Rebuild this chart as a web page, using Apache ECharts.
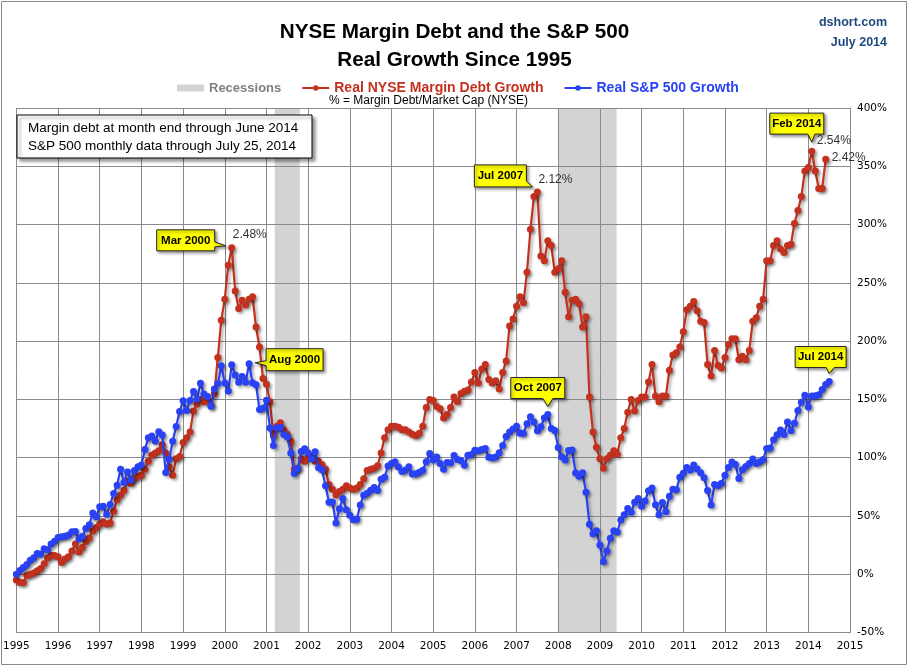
<!DOCTYPE html>
<html><head><meta charset="utf-8">
<script src="https://cdn.jsdelivr.net/npm/echarts@6/dist/echarts.min.js"></script>
<style>html,body{margin:0;padding:0;background:#fff}#c{width:909px;height:667px}</style>
</head><body><div id="c"></div>
<script>
// ---- DATA (monthly, starting Jan 1995) ----
const startYear = 1995;
const marginDebtGrowth = [ // Real NYSE Margin Debt Growth, %, Jan 1995 - Jun 2014
  -5, -7, -7, -1, 0, 1, 3, 5, 9, 14, 16, 16,
  15, 10, 13, 15, 20, 26, 19, 23, 28, 31, 37, 40,
  43, 45, 43, 44, 54, 64, 68, 72, 80, 78, 82, 84,
  85, 90, 97, 102, 104, 106, 111, 104, 92, 85, 99, 101,
  113, 117, 122, 140, 146, 150, 148, 149, 145, 155, 186, 218,
  236, 265, 280, 243, 228, 235, 231, 236, 238, 212, 195, 168,
  163, 148, 119, 127, 130, 124, 120, 114, 90, 91, 99, 97,
  101, 101, 97, 97, 94, 90, 77, 73, 68, 71, 73, 76,
  74, 73, 74, 77, 82, 89, 90, 91, 93, 104, 117, 124,
  127, 127, 126, 124, 124, 122, 120, 119, 121, 127, 143, 150,
  149, 144, 142, 134, 137, 143, 152, 148, 155, 157, 158, 165,
  173, 164, 176, 180, 167, 164, 166, 159, 173, 183, 213, 219,
  230, 238, 233, 259, 296, 324, 328, 273, 269, 286, 282, 259,
  262, 269, 242, 221, 235, 236, 232, 212, 221, 152, 122, 109,
  99, 91, 99, 102, 106, 103, 117, 125, 139, 150, 140, 149,
  152, 152, 165, 180, 153, 148, 153, 153, 175, 188, 190, 195,
  208, 227, 230, 234, 226, 217, 216, 180, 170, 192, 179, 177,
  186, 197, 202, 202, 184, 187, 184, 192, 217, 220, 230, 236,
  269, 269, 282, 286, 279, 276, 282, 283, 301, 312, 324, 346,
  349, 363, 346, 331, 331, 356
];
const sp500Growth = [ // Real S&P 500 Growth, %, Jan 1995 - Jul 2014
  0.0, 3.2, 5.7, 8.3, 12.0, 14.1, 17.8, 17.4, 21.9, 20.9, 25.9, 28.2,
  31.6, 32.1, 32.5, 33.7, 36.5, 36.7, 30.2, 32.4, 39.2, 42.4, 52.5, 49.2,
  57.9, 58.3, 51.2, 59.8, 69.3, 76.4, 90.0, 78.7, 87.8, 80.8, 89.0, 92.2,
  93.8, 107.1, 117.0, 118.6, 114.1, 122.2, 119.4, 87.2, 98.6, 114.1, 126.7, 139.6,
  148.8, 140.5, 149.1, 156.7, 150.3, 163.9, 154.7, 152.5, 144.1, 158.9, 163.7, 178.9,
  164.0, 157.1, 179.7, 170.9, 164.7, 169.6, 164.6, 180.6, 164.2, 162.5, 141.4, 142.4,
  149.3, 125.4, 110.4, 125.7, 125.8, 119.8, 118.0, 104.1, 86.5, 90.6, 105.2, 107.6,
  103.9, 98.9, 105.0, 91.4, 89.6, 75.8, 61.7, 62.0, 43.9, 56.1, 65.0, 55.4,
  50.5, 46.8, 47.1, 59.4, 67.8, 69.5, 72.1, 74.5, 71.8, 81.5, 83.3, 92.8,
  95.1, 96.5, 92.0, 88.2, 89.4, 92.1, 85.9, 86.2, 87.5, 89.2, 96.4, 103.5,
  97.9, 100.5, 95.1, 90.0, 95.8, 95.7, 101.8, 98.5, 97.5, 93.6, 102.0, 102.7,
  106.3, 105.9, 107.1, 107.8, 100.4, 100.0, 100.5, 104.3, 110.4, 118.2, 122.1, 124.6,
  127.0, 120.9, 121.0, 129.1, 135.2, 130.5, 123.2, 126.5, 134.0, 137.0, 125.1, 123.4,
  108.7, 100.8, 97.9, 106.1, 106.6, 86.9, 84.1, 87.1, 70.3, 42.9, 34.8, 37.3,
  25.0, 10.7, 19.9, 30.8, 37.3, 36.2, 46.5, 51.1, 56.4, 53.1, 61.8, 65.0,
  58.3, 62.9, 71.7, 73.9, 59.5, 51.1, 61.5, 53.6, 67.0, 72.9, 72.4, 83.3,
  86.6, 91.6, 89.5, 93.7, 90.2, 87.0, 82.8, 71.9, 59.3, 76.9, 76.1, 78.0,
  85.0, 91.6, 96.2, 94.1, 82.2, 89.6, 92.4, 95.1, 98.9, 95.1, 96.6, 98.5,
  107.8, 108.4, 115.4, 119.6, 123.7, 119.8, 130.6, 123.1, 129.5, 140.4, 147.5, 153.5,
  143.5, 153.0, 153.2, 153.9, 158.4, 162.8, 165.3
];
const recessionStart = [2001.2, 2008.0];
const recessionEnd   = [2001.8, 2009.4];
const seriesNames = ['Recessions', 'Real NYSE Margin Debt Growth', 'Real S&P 500 Growth'];
// callouts: series key, month index, label
const callouts = [
  {text:'Mar 2000', s:'m', i:62,  box:[-75,-18,-17,3],  side:'right',  wedge:[-6,-1], tip:[-6,-2]},
  {text:'Aug 2000', s:'s', i:67,  box:[17,-15,74,7],    side:'left',   wedge:[-3,2],  tip:[6,-1]},
  {text:'Jul 2007', s:'m', i:150, box:[-63,-27,-11,-5], side:'right',  wedge:[-11,-5], tip:[-5,-5]},
  {text:'Oct 2007', s:'s', i:153, box:[-37,-37,17,-16], side:'bottom', wedge:[-5,5],  tip:[0,-8]},
  {text:'Feb 2014', s:'m', i:229, box:[-42,-38,12,-17], side:'bottom', wedge:[-4,3],  tip:[0,-9]},
  {text:'Jul 2014', s:'s', i:234, box:[-34,-35,17,-14], side:'bottom', wedge:[-3,5],  tip:[0,-8]}
];
const ratioLabels = [
  {text:'2.48%', s:'m', i:62,  dx:1, dy:-13},
  {text:'2.12%', s:'m', i:150, dx:1, dy:-12},
  {text:'2.54%', s:'m', i:229, dx:5, dy:-10},
  {text:'2.42%', s:'m', i:233, dx:6, dy:-2}
];

const RED = '#c4311f', BLUE = '#2a42f6', GRID = '#8a8a8a';
const FONT = "'Liberation Sans',sans-serif";
const toXY = arr => arr.map((v, k) => [startYear + k / 12, v]);
const redData = toXY(marginDebtGrowth);
const blueData = toXY(sp500Growth);

const chart = echarts.init(document.getElementById('c'), null, {renderer: 'canvas'});
const shadow = {shadowColor: 'rgba(0,0,0,0.35)', shadowBlur: 3, shadowOffsetX: 2, shadowOffsetY: 2};

chart.setOption({
  animation: false,
  backgroundColor: '#fff',
  title: [
    {text: 'NYSE Margin Debt and the S&P 500\nReal Growth Since 1995', left: 'center', top: 13,
     textStyle: {fontFamily: FONT, fontWeight: 'bold', fontSize: 20.7, lineHeight: 28, color: '#000'}},
    {text: '% = Margin Debt/Market Cap (NYSE)', left: 324, top: 89.5,
     textStyle: {fontFamily: FONT, fontWeight: 'normal', fontSize: 12, color: '#000'}}
  ],
  legend: {
    left: 172, top: 76, itemGap: 20, itemWidth: 27, itemHeight: 7,
    textStyle: {fontFamily: FONT, fontWeight: 'bold', fontSize: 14},
    data: [
      {name: seriesNames[0], icon: 'rect', textStyle: {color: '#808080', fontSize: 13}},
      {name: seriesNames[1], textStyle: {color: RED}},
      {name: seriesNames[2], textStyle: {color: BLUE}}
    ]
  },
  grid: {left: 14.5, right: 59, top: 108, bottom: 34.5},
  xAxis: {
    type: 'value', min: 1995, max: 2015, interval: 1, z: 1.5,
    axisLine: {show: true, lineStyle: {color: GRID}},
    axisTick: {show: false},
    splitLine: {show: true, lineStyle: {color: GRID, width: 1}},
    axisLabel: {formatter: v => String(v), color: '#000', fontFamily: "'DejaVu Sans',sans-serif", fontSize: 10.5, margin: 8}
  },
  yAxis: {
    type: 'value', position: 'right', min: -50, max: 400, interval: 50, z: 1.5,
    axisLine: {show: true, lineStyle: {color: GRID}},
    axisTick: {show: false},
    splitLine: {show: true, lineStyle: {color: GRID, width: 1}},
    axisLabel: {formatter: '{value}%', color: '#000', fontFamily: "'DejaVu Sans',sans-serif", fontSize: 10.5, margin: 7}
  },
  series: [
    {
      type: 'custom', name: seriesNames[0], z: 1, silent: true,
      itemStyle: {color: '#d3d3d3'},
      data: recessionStart.map((s, k) => [s, recessionEnd[k]]),
      encode: {x: [0, 1]},
      renderItem: (params, api) => {
        const p0 = api.coord([api.value(0), 400]);
        const p1 = api.coord([api.value(1), -50]);
        return {type: 'rect', shape: {x: p0[0], y: p0[1], width: p1[0] - p0[0], height: p1[1] - p0[1]},
                style: {fill: '#d3d3d3'}};
      }
    },
    {
      type: 'line', name: seriesNames[1], data: redData, z: 3,
      symbol: 'circle', symbolSize: 7, showAllSymbol: true,
      lineStyle: Object.assign({color: RED, width: 2.2}, shadow),
      itemStyle: Object.assign({color: RED}, shadow)
    },
    {
      type: 'line', name: seriesNames[2], data: blueData, z: 4,
      symbol: 'circle', symbolSize: 7, showAllSymbol: true,
      lineStyle: Object.assign({color: BLUE, width: 2.2}, shadow),
      itemStyle: Object.assign({color: BLUE}, shadow)
    }
  ]
});

// ---- annotations anchored to data points ----
function pt(s, i) {
  const d = s === 'm' ? redData[i] : blueData[i];
  return chart.convertToPixel({gridIndex: 0}, d);
}
const graphics = [];
graphics.push({type: 'rect', shape: {x: 1.5, y: 1.5, width: 905, height: 663}, style: {fill: null, stroke: '#8a8a8a', lineWidth: 1}, z: 0, silent: true});
// source / date (top right)
graphics.push({type: 'text', x: 887, y: 23, z: 11, style: {text: 'dshort.com', fontFamily: FONT, fontWeight: 'bold', fontSize: 12.5, fill: '#1f497d', align: 'right', verticalAlign: 'middle'}});
graphics.push({type: 'text', x: 887, y: 43, z: 11, style: {text: 'July 2014', fontFamily: FONT, fontWeight: 'bold', fontSize: 12.5, fill: '#1f497d', align: 'right', verticalAlign: 'middle'}});
// note box
graphics.push({type: 'rect', shape: {x: 17, y: 115, width: 295, height: 43},
  style: {fill: '#fff', stroke: '#000', lineWidth: 1, shadowColor: 'rgba(0,0,0,0.4)', shadowBlur: 3, shadowOffsetX: 3, shadowOffsetY: 3}, z: 10});
graphics.push({type: 'text', x: 28, y: 128, z: 11, style: {text: 'Margin debt at month end through June 2014', fontFamily: FONT, fontSize: 13.5, fill: '#000', verticalAlign: 'middle'}});
graphics.push({type: 'text', x: 28, y: 146, z: 11, style: {text: 'S&P 500 monthly data through July 25, 2014', fontFamily: FONT, fontSize: 13.5, fill: '#000', verticalAlign: 'middle'}});

callouts.forEach(c => {
  const p = pt(c.s, c.i);
  const x0 = p[0] + c.box[0], y0 = p[1] + c.box[1], x1 = p[0] + c.box[2], y1 = p[1] + c.box[3];
  const tip = [p[0] + c.tip[0], p[1] + c.tip[1]];
  const pts = [[x0, y0], [x1, y0]];
  if (c.side === 'right') pts.push([x1, p[1] + c.wedge[0]], tip, [x1, p[1] + c.wedge[1]]);
  pts.push([x1, y1]);
  if (c.side === 'bottom') pts.push([p[0] + c.wedge[1], y1], tip, [p[0] + c.wedge[0], y1]);
  pts.push([x0, y1]);
  if (c.side === 'left') pts.push([x0, p[1] + c.wedge[1]], tip, [x0, p[1] + c.wedge[0]]);
  graphics.push({type: 'polygon', z: 20, shape: {points: pts},
    style: {fill: '#ffff00', stroke: '#222', lineWidth: 1, shadowColor: 'rgba(0,0,0,0.4)', shadowBlur: 3, shadowOffsetX: 2, shadowOffsetY: 2}});
  graphics.push({type: 'text', z: 21, x: (x0 + x1) / 2, y: (y0 + y1) / 2,
    style: {text: c.text, fontFamily: FONT, fontWeight: 'bold', fontSize: 11.5, fill: '#000', align: 'center', verticalAlign: 'middle'}});
});
ratioLabels.forEach(r => {
  const p = pt(r.s, r.i);
  graphics.push({type: 'text', z: 21, x: p[0] + r.dx, y: p[1] + r.dy,
    style: {text: r.text, fontFamily: FONT, fontSize: 12, fill: '#333', align: 'left', verticalAlign: 'middle'}});
});
chart.setOption({graphic: graphics});
</script></body></html>
